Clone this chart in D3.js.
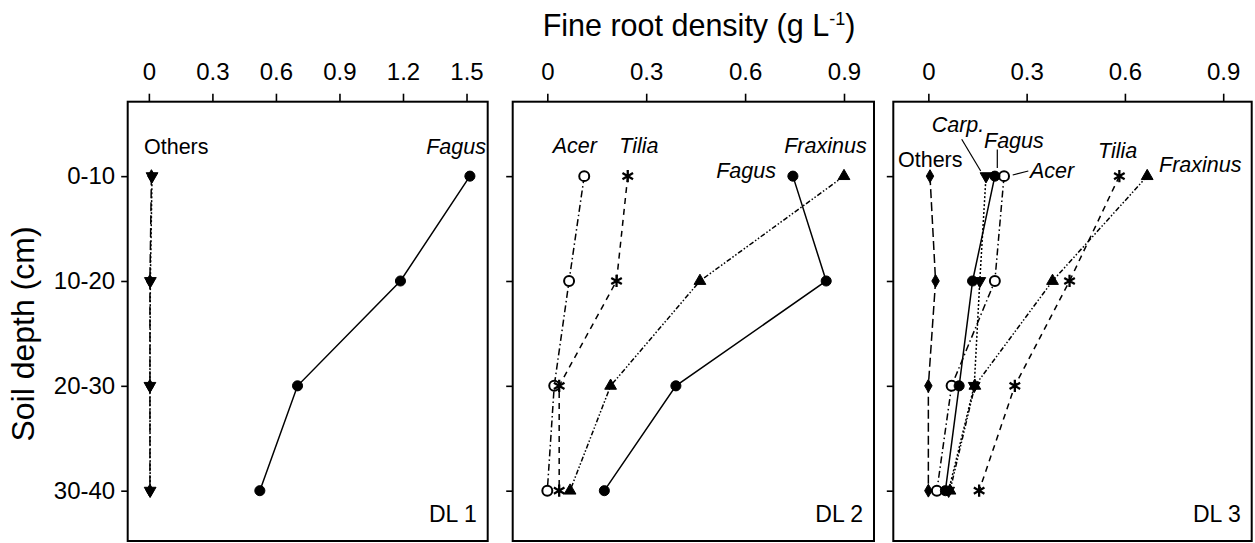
<!DOCTYPE html>
<html><head><meta charset="utf-8">
<script src="https://cdn.jsdelivr.net/npm/d3@7"></script>
<style>body{margin:0;background:#fff}svg{display:block}text{font-family:Arial,"Liberation Sans",sans-serif;fill:#000}</style>
</head><body>
<script>
// ---- data ----
const depthLabels = ["0-10", "10-20", "20-30", "30-40"];
const depthMid = [5, 15, 25, 35];
const xTicksDL1 = [0, 0.3, 0.6, 0.9, 1.2, 1.5];
const xTicksDL23 = [0, 0.3, 0.6, 0.9];
const panelNames = ["DL 1", "DL 2", "DL 3"];

const dl1Fagus  = [1.516, 1.188, 0.702, 0.524];
const dl1Others = [0.012, 0.005, 0.005, 0.005];
const dl1Carp   = [0.015, 0.007, 0.005, 0.006];

const dl2Fagus    = [0.745, 0.846, 0.390, 0.173];
const dl2Acer     = [0.112, 0.066, 0.021, 0.000];
const dl2Tilia    = [0.244, 0.210, 0.036, 0.036];
const dl2Fraxinus = [0.900, 0.463, 0.192, 0.069];

const dl3Others   = [0.005, 0.022, 0.000, 0.000];
const dl3Carp     = [0.176, 0.157, 0.140, 0.062];
const dl3Fagus    = [0.203, 0.135, 0.094, 0.052];
const dl3Acer     = [0.231, 0.203, 0.071, 0.026];
const dl3Tilia    = [0.583, 0.431, 0.264, 0.155];
const dl3Fraxinus = [0.668, 0.379, 0.142, 0.066];

// ---- styles ----
const styles = {
  Fagus:    {dash: null, sym: d3.symbolCircle, size: 80, fill: "#000", rot: 0, sw: 1},
  Acer:     {dash: "7,3,1.5,3", sym: d3.symbolCircle, size: 78, fill: "#fff", rot: 0, sw: 2},
  Tilia:    {dash: "6,5", sym: d3.symbolAsterisk, size: 105, fill: "none", rot: 0, sw: 2.3},
  Fraxinus: {dash: "5,2,1.5,2,1.5,2", sym: d3.symbolTriangle, size: 60, fill: "#000", rot: 0, sw: 1},
  Carp:     {dash: "2,2", sym: d3.symbolTriangle, size: 60, fill: "#000", rot: 180, sw: 1},
  Others:   {dash: "9,4", sym: d3.symbolDiamond, size: 48, fill: "#000", rot: 0, sw: 1}
};

const W = 1255, H = 543;
const svg = d3.select("body").append("svg").attr("width", W).attr("height", H);

const y = d3.scaleLinear().domain([-2.1, 39.8]).range([101.7, 541]);

const panels = [
  {name: panelNames[0], range: [127.7, 487.7], domain: [-0.1, 1.6], ticks: xTicksDL1,
   series: [["Others", dl1Others], ["Carp", dl1Carp], ["Fagus", dl1Fagus]],
   labels: [{t: "Others", x: 144, y: 154, a: "start", it: false},
            {t: "Fagus", x: 486, y: 154, a: "end", it: true}]},
  {name: panelNames[1], range: [512.7, 874], domain: [-0.105, 0.991], ticks: xTicksDL23,
   series: [["Acer", dl2Acer], ["Tilia", dl2Tilia], ["Fraxinus", dl2Fraxinus], ["Fagus", dl2Fagus]],
   labels: [{t: "Acer", x: 552.7, y: 153, a: "start", it: true},
            {t: "Tilia", x: 619.3, y: 153, a: "start", it: true},
            {t: "Fraxinus", x: 866.7, y: 153, a: "end", it: true},
            {t: "Fagus", x: 776, y: 178, a: "end", it: true}]},
  {name: panelNames[2], range: [893.3, 1251.7], domain: [-0.107, 0.987], ticks: xTicksDL23,
   series: [["Others", dl3Others], ["Carp", dl3Carp], ["Acer", dl3Acer], ["Fagus", dl3Fagus], ["Tilia", dl3Tilia], ["Fraxinus", dl3Fraxinus]],
   labels: [{t: "Others", x: 898, y: 167, a: "start", it: false},
            {t: "Carp.", x: 931.7, y: 131.5, a: "start", it: true},
            {t: "Fagus", x: 984, y: 147.5, a: "start", it: true},
            {t: "Acer", x: 1030, y: 178, a: "start", it: true},
            {t: "Tilia", x: 1098, y: 158, a: "start", it: true},
            {t: "Fraxinus", x: 1159, y: 172, a: "start", it: true}],
   leaders: [[961.7, 139.3, 980.7, 171], [997.3, 149.5, 997.3, 168], [1012.7, 175, 1028.3, 171]]}
];

panels.forEach((p, pi) => {
  const x = d3.scaleLinear().domain(p.domain).range(p.range);
  const g = svg.append("g");
  const [x0, x1] = p.range;
  const yt = y.range()[0], yb = y.range()[1];

  // top axis
  const ax = g.append("g").attr("transform", `translate(0,${yt})`)
    .call(d3.axisTop(x).tickValues(p.ticks).tickSize(8).tickPadding(13.5).tickFormat(d3.format("")));
  ax.select(".domain").remove();
  ax.selectAll(".tick line").attr("stroke", "#000").attr("stroke-width", 1.6);
  ax.selectAll(".tick text").attr("font-size", 24).attr("font-family", "Arial, Liberation Sans, sans-serif").attr("fill", "#000");

  // left axis ticks
  const ay = g.append("g").attr("transform", `translate(${x0},0)`)
    .call(d3.axisLeft(y).tickValues(depthMid).tickSize(6.5).tickPadding(6)
      .tickFormat((d, i) => pi === 0 ? depthLabels[i] : ""));
  ay.select(".domain").remove();
  ay.selectAll(".tick line").attr("stroke", "#000").attr("stroke-width", 1.6);
  ay.selectAll(".tick text").attr("font-size", 24).attr("font-family", "Arial, Liberation Sans, sans-serif").attr("fill", "#000");

  // frame
  g.append("rect").attr("x", x0).attr("y", yt).attr("width", x1 - x0).attr("height", yb - yt)
    .attr("fill", "none").attr("stroke", "#000").attr("stroke-width", 2);

  const line = d3.line().x(d => x(d[0])).y(d => y(d[1]));

  // lines
  p.series.forEach(([nm, vals]) => {
    const st = styles[nm];
    g.append("path").datum(vals.map((v, i) => [v, depthMid[i]]))
      .attr("d", line).attr("fill", "none").attr("stroke", "#000").attr("stroke-width", 1.5)
      .attr("stroke-dasharray", st.dash);
  });
  // markers
  p.series.forEach(([nm, vals]) => {
    const st = styles[nm];
    const sym = d3.symbol().type(st.sym).size(st.size);
    g.selectAll(null).data(vals).enter().append("path")
      .attr("d", sym)
      .attr("transform", (v, i) => `translate(${x(v)},${y(depthMid[i])}) rotate(${st.rot})`)
      .attr("fill", st.fill)
      .attr("stroke", "#000")
      .attr("stroke-width", st.sw);
  });

  // species labels
  p.labels.forEach(l => {
    g.append("text").attr("x", l.x).attr("y", l.y).attr("text-anchor", l.a)
      .attr("font-size", 21.5).attr("font-style", l.it ? "italic" : "normal").text(l.t);
  });
  (p.leaders || []).forEach(l => {
    g.append("line").attr("x1", l[0]).attr("y1", l[1]).attr("x2", l[2]).attr("y2", l[3])
      .attr("stroke", "#000").attr("stroke-width", 1.2);
  });

  // panel name
  g.append("text").attr("x", x1 - 11).attr("y", 521.5).attr("text-anchor", "end")
    .attr("font-size", 23).text(p.name);
});

// axis titles
const tt = svg.append("text").attr("x", 699).attr("y", 36).attr("text-anchor", "middle").attr("font-size", 30.5);
tt.append("tspan").text("Fine root density (g L");
tt.append("tspan").attr("font-size", 18).attr("dy", -11).text("-1");
tt.append("tspan").attr("dy", 11).text(")");

svg.append("text").attr("transform", "translate(34,334) rotate(-90)").attr("text-anchor", "middle")
  .attr("font-size", 32).text("Soil depth (cm)");
</script>
</body></html>
